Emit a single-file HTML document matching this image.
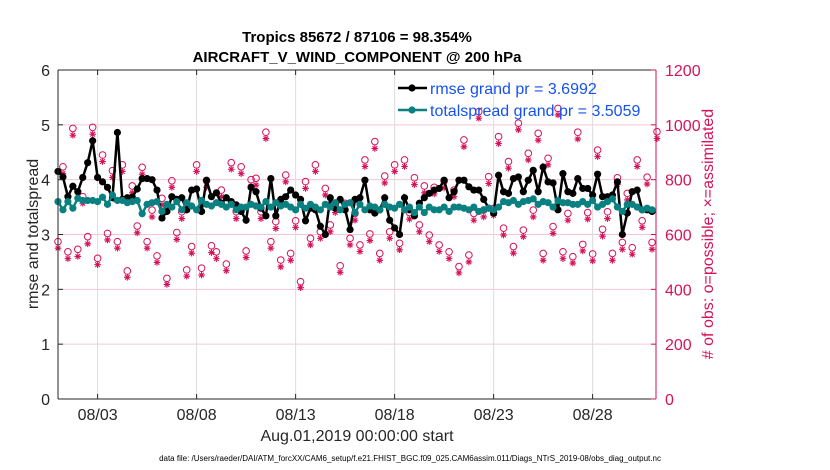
<!DOCTYPE html>
<html><head><meta charset="utf-8"><style>
body{margin:0;background:#fff;}
svg{display:block;font-family:"Liberation Sans",Arial,sans-serif;}
</style></head><body>
<svg id="c" width="830" height="470"></svg>
<script>
const rmse=[4.15,4.05,3.69,3.88,3.78,4.04,4.31,4.71,4.04,3.96,3.86,3.67,4.86,3.64,3.67,3.68,3.83,4.02,4.02,4.0,3.81,3.30,3.42,3.69,3.64,3.67,3.45,3.81,3.83,3.42,3.99,3.69,3.76,3.57,3.67,3.6,3.54,3.42,3.26,3.86,3.78,3.48,3.34,4.02,3.34,3.64,3.69,3.81,3.72,3.64,3.25,3.48,3.45,3.15,3.0,3.67,3.48,3.64,3.45,3.09,3.64,3.67,3.99,3.45,3.39,3.45,3.67,3.26,3.12,3.0,3.67,3.45,3.34,3.57,3.67,3.75,3.81,3.84,3.99,3.67,3.78,3.99,3.99,3.87,3.81,3.81,3.64,3.48,3.39,4.08,3.78,3.75,4.02,4.05,3.78,3.99,4.17,3.78,4.23,3.96,3.94,3.45,4.11,3.78,3.75,4.02,3.84,3.84,3.72,4.1,3.69,3.69,3.72,3.96,3.0,3.39,3.78,3.81,3.45,3.45,3.42];
const spread=[3.6,3.45,3.6,3.48,3.66,3.62,3.62,3.62,3.6,3.68,3.55,3.72,3.62,3.62,3.58,3.6,3.62,3.38,3.55,3.58,3.6,3.42,3.55,3.5,3.6,3.45,3.58,3.52,3.45,3.62,3.55,3.52,3.58,3.55,3.5,3.55,3.45,3.5,3.5,3.55,3.52,3.5,3.6,3.5,3.58,3.52,3.55,3.5,3.45,3.55,3.48,3.55,3.5,3.45,3.55,3.5,3.58,3.45,3.55,3.58,3.4,3.55,3.45,3.52,3.5,3.45,3.55,3.5,3.48,3.55,3.45,3.5,3.4,3.5,3.4,3.5,3.45,3.45,3.5,3.42,3.5,3.5,3.48,3.45,3.5,3.42,3.45,3.48,3.45,3.5,3.6,3.58,3.62,3.55,3.6,3.62,3.65,3.55,3.6,3.58,3.5,3.62,3.58,3.58,3.55,3.55,3.6,3.55,3.62,3.5,3.55,3.6,3.65,3.5,3.42,3.55,3.55,3.5,3.45,3.48,3.45];
const obsPossible=[574,847,537,987,546,738,592,991,513,890,604,833,574,854,467,777,631,845,574,689,522,732,440,796,607,683,471,556,854,477,796,559,537,762,492,862,683,847,540,800,805,683,973,574,647,507,817,531,650,428,793,586,854,610,768,635,704,486,714,586,677,562,872,602,939,531,813,610,854,568,872,680,807,635,777,598,772,562,795,537,762,483,945,525,677,1048,689,811,695,957,623,866,556,1006,616,896,689,969,531,878,629,1060,537,677,519,973,564,680,529,908,619,683,531,807,571,750,552,872,650,809,571,975];
const obsAssim=[550,822,512,962,520,714,566,966,490,866,580,808,550,830,444,752,606,820,550,664,498,708,418,772,582,658,448,532,830,452,772,534,512,738,468,838,658,822,516,776,780,658,950,550,622,482,792,506,626,406,768,562,830,586,744,610,680,462,690,562,652,538,848,578,914,506,788,586,830,544,848,656,782,610,752,574,748,538,770,512,738,460,920,500,652,1024,664,786,670,932,598,842,532,982,592,872,664,944,506,854,604,1036,512,652,496,948,540,656,504,884,594,658,506,782,546,726,528,848,626,784,546,950];
const dateTicks=["08/03","08/08","08/13","08/18","08/23","08/28"];
const tickDays=[2,7,12,17,22,27];
const leftTicks=[0,1,2,3,4,5,6];
const rightTicks=[0,200,400,600,800,1000,1200];

const X0=58,X1=656,Y0=399,Y1=70,DAYS=30.2;
const xs=d=>X0+(X1-X0)*d/DAYS;
const yl=v=>Y0-(Y0-Y1)*v/6;
const yr=v=>Y0-(Y0-Y1)*v/1200;
const NS="http://www.w3.org/2000/svg";
const svg=document.getElementById('c');
function mk(t,a,p){const e=document.createElementNS(NS,t);for(const k in a)e.setAttribute(k,a[k]);(p||svg).appendChild(e);return e;}
const R="#d6125a";
mk('rect',{x:X0,y:Y1,width:X1-X0,height:Y0-Y1,fill:'#fff'});
// grid
rightTicks.forEach(v=>{const l=mk('line',{x1:X0,x2:X1,y1:yr(v),y2:yr(v),stroke:'#f3c6d6','stroke-width':1});

});
tickDays.forEach(d=>{const l=mk('line',{x1:xs(d),x2:xs(d),y1:Y1,y2:Y0,stroke:'#dcdcdc','stroke-width':1});

});
// obs markers
const gO=mk('g',{});


obsPossible.forEach((v,i)=>{const c=mk('circle',{cx:xs(i*0.25),cy:yr(v),r:3.3,fill:'none',stroke:R,'stroke-width':1},gO);

});
obsAssim.forEach((v,i)=>{const x=xs(i*0.25),y=yr(v);let d='';for(let k=0;k<4;k++){const a=k*Math.PI/4;d+=`M${x-3.3*Math.cos(a)},${y-3.3*Math.sin(a)}L${x+3.3*Math.cos(a)},${y+3.3*Math.sin(a)}`;}
const p=mk('path',{d:d,stroke:R,'stroke-width':1.1},gO);

});
// series
function series(arr,col,name){const g=mk('g',{});


mk('polyline',{points:arr.map((v,i)=>xs(i*0.25)+','+yl(v)).join(' '),fill:'none',stroke:col,'stroke-width':2.5},g);
arr.forEach((v,i)=>{const c=mk('circle',{cx:xs(i*0.25),cy:yl(v),r:3.6,fill:col},g);

});}
series(rmse,'#000','rmse-series');
series(spread,'#0a8080','spread-series');
// axes
mk('line',{x1:X0,x2:X0,y1:Y1,y2:Y0,stroke:'#262626'});
mk('line',{x1:X0,x2:X1,y1:Y1,y2:Y1,stroke:'#262626'});
mk('line',{x1:X0,x2:X1,y1:Y0,y2:Y0,stroke:'#262626'});
mk('line',{x1:X1,x2:X1,y1:Y1,y2:Y0,stroke:R});
leftTicks.forEach(v=>{mk('line',{x1:X0,x2:X0+5,y1:yl(v),y2:yl(v),stroke:'#262626'});
const t=mk('text',{x:X0-8,y:yl(v)+6,'text-anchor':'end','font-size':16,fill:'#262626'});t.textContent=v;

});
rightTicks.forEach(v=>{mk('line',{x1:X1-5,x2:X1,y1:yr(v),y2:yr(v),stroke:R});
const t=mk('text',{x:X1+9,y:yr(v)+6,'font-size':16,fill:R});t.textContent=v;

});
tickDays.forEach((d,i)=>{mk('line',{x1:xs(d),x2:xs(d),y1:Y0,y2:Y0-5,stroke:'#262626'});mk('line',{x1:xs(d),x2:xs(d),y1:Y1,y2:Y1+5,stroke:'#262626'});
const t=mk('text',{x:xs(d),y:Y0+21,'text-anchor':'middle','font-size':16,fill:'#262626'});t.textContent=dateTicks[i];

});
// legend
const lg=mk('g',{});


[['#000','rmse grand pr = 3.6992',88],['#0a8080','totalspread grand pr = 3.5059',110]].forEach(a=>{
mk('line',{x1:398,x2:427,y1:a[2],y2:a[2],stroke:a[0],'stroke-width':2.5},lg);
mk('circle',{cx:412,cy:a[2],r:3.6,fill:a[0]},lg);
const t=mk('text',{x:430,y:a[2]+6,'font-size':16,fill:'#1652f0'},lg);t.textContent=a[1];

});
function txt(x,y,s,str,extra,name){const t=mk('text',Object.assign({x:x,y:y,'font-size':s,'text-anchor':'middle',fill:'#000'},extra||{}));t.textContent=str;

return t;}
txt(357,42,15,'Tropics 85672 / 87106 = 98.354%',{'font-weight':'bold'},'chart-title');
txt(357,62,15,'AIRCRAFT_V_WIND_COMPONENT @ 200 hPa',{'font-weight':'bold'},'chart-subtitle');
txt(357,441,16,'Aug.01,2019 00:00:00 start',{fill:'#262626'},'x-axis-title');
txt(410,461,8,'data file: /Users/raeder/DAI/ATM_forcXX/CAM6_setup/f.e21.FHIST_BGC.f09_025.CAM6assim.011/Diags_NTrS_2019-08/obs_diag_output.nc',{},'data-file-note');
txt(0,0,16,'rmse and totalspread',{transform:'translate(38,234) rotate(-90)',fill:'#262626'},'y-axis-left-title');
txt(0,0,16,'# of obs: o=possible; \u00d7=assimilated',{transform:'translate(713,234) rotate(-90)',fill:R},'y-axis-right-title');
</script>
</body></html>
